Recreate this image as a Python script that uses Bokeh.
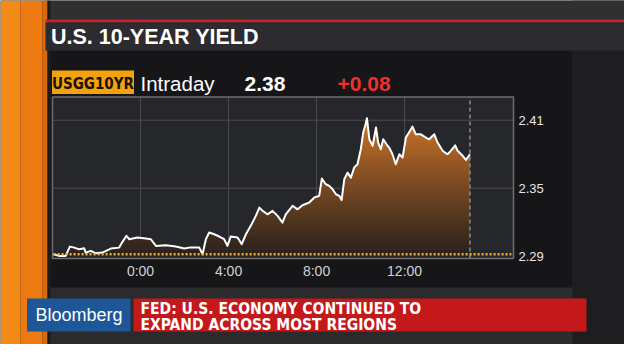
import numpy as np
from bokeh.plotting import figure
from bokeh.models import Range1d
from bokeh.core.properties import value
from bokeh.embed import file_html
from bokeh.resources import INLINE

# ---------------- data ----------------
title_text = "U.S. 10-YEAR YIELD"
ticker = "USGG10YR"
period = "Intraday"
last_value = "2.38"
change = "+0.08"
headline = ["FED: U.S. ECONOMY CONTINUED TO", "EXPAND ACROSS MOST REGIONS"]
brand = "Bloomberg"

hours = [-3.97, -3.70, -3.40, -3.21, -3.01, -2.79, -2.56, -2.49, -2.26, -2.03,
         -1.73, -1.35, -0.97, -0.82, -0.64, -0.51, -0.14, 0.24, 0.47, 0.70,
         1.15, 1.60, 1.99, 2.21, 2.67, 2.82, 2.97, 3.12, 3.35, 3.58,
         3.80, 3.95, 4.10, 4.41, 4.60, 4.79, 5.01, 5.24, 5.40, 5.55,
         5.77, 6.00, 6.23, 6.45, 6.60, 6.91, 7.14, 7.36, 7.67, 7.90,
         8.12, 8.24, 8.42, 8.58, 8.73, 8.88, 9.03, 9.14, 9.26, 9.41,
         9.56, 9.71, 9.86, 10.01, 10.12, 10.21, 10.29, 10.40, 10.55, 10.70,
         10.80, 10.92, 11.03, 11.18, 11.30, 11.45, 11.60, 11.76, 11.91, 12.06,
         12.29, 12.36, 12.51, 12.74, 12.97, 13.12, 13.35, 13.50, 13.73, 13.95,
         14.10, 14.30, 14.41, 14.64, 14.79, 14.97]
yields = [2.2917, 2.2903, 2.2903, 2.2985, 2.2976, 2.2961, 2.2970, 2.2932, 2.2947, 2.2926,
          2.2932, 2.2968, 2.2976, 2.3027, 2.3080, 2.3050, 2.3065, 2.3056, 2.3050, 2.2991,
          2.2997, 2.2985, 2.2968, 2.2976, 2.2976, 2.2917, 2.3050, 2.3109, 2.3094, 2.3074,
          2.3050, 2.2991, 2.3074, 2.3065, 2.3006, 2.3094, 2.3168, 2.3256, 2.3329, 2.3300,
          2.3270, 2.3300, 2.3256, 2.3197, 2.3270, 2.3344, 2.3314, 2.3350, 2.3374, 2.3418,
          2.3433, 2.3585, 2.3535, 2.3520, 2.3491, 2.3447, 2.3433, 2.3397, 2.3579, 2.3638,
          2.3594, 2.3683, 2.3712, 2.3844, 2.3991, 2.4051, 2.4118, 2.3932, 2.3874, 2.4036,
          2.3903, 2.3844, 2.3932, 2.3888, 2.3859, 2.3800, 2.3712, 2.3800, 2.3771, 2.3947,
          2.4021, 2.4044, 2.3976, 2.3976, 2.3947, 2.3932, 2.3976, 2.3903, 2.3830, 2.3800,
          2.3830, 2.3879, 2.3830, 2.3786, 2.3750, 2.3800]

x_ticks = [0, 4, 8, 12]
x_tick_labels = ["0:00", "4:00", "8:00", "12:00"]
y_ticks = [2.41, 2.35, 2.29]
y_tick_labels = ["2.41", "2.35", "2.29"]
prev_close = 2.2918
now_hour = 14.97

# ---------------- layout ----------------
W, H = 624, 344
OFF = 8
PL, PR = 60 - OFF, 521 - OFF
PT, PB = 104.5 - OFF, 266 - OFF
XMIN, XMAX = -4.0, 16.95
YMIN, YMAX = 2.2880, 2.4305
COND = value("DejaVu Sans Condensed")


def ext(v0, v1, p0, p1, c0, c1):
    s = (v1 - v0) / (p1 - p0)
    return v0 + (c0 - p0) * s, v0 + (c1 - p0) * s


p = figure(width=W, height=H, x_range=Range1d(0, W), y_range=Range1d(H, 0),
           x_axis_type=None, y_axis_type=None, output_backend="svg",
           toolbar_location=None, min_border=0)
p.outline_line_color = None
p.grid.visible = False
p.background_fill_color = "#2b2b2d"
p.border_fill_color = "#2b2b2d"

hx0, hx1 = ext(XMIN, XMAX, PL, PR, 0, W)
yv0, yv1 = ext(YMIN, YMAX, PB, PT, H, 0)
p.extra_x_ranges = {"h": Range1d(hx0, hx1)}
p.extra_y_ranges = {"v": Range1d(yv0, yv1)}

# background areas
p.quad(left=572, right=W, top=0, bottom=H, fill_color="#1e1e20", line_color=None)
p.quad(left=45, right=W, top=0, bottom=19, fill_color="#303032", line_color=None)
# orange strip
p.quad(left=0, right=20, top=0, bottom=H, fill_color="#f38a18", line_color=None)
p.quad(left=20, right=42, top=0, bottom=H, fill_color="#ee7a12", line_color=None)
p.quad(left=42, right=47, top=0, bottom=H, fill_color="#d9690d", line_color=None)
p.quad(left=47, right=50, top=0, bottom=H, fill_color="#1c1c1e", line_color=None)
# title bar
p.quad(left=45, right=W, top=19, bottom=22, fill_color="#c8232a", line_color=None)
p.quad(left=45, right=W, top=22, bottom=50, fill_color="#2c2c30", line_color=None)
# chart panel
p.quad(left=50, right=572, top=50, bottom=287, fill_color="#161618", line_color=None)

# title and header
p.text(x=[50.5], y=[36], text=[title_text], text_color="white",
       text_font=value("Liberation Sans"), text_font_style="bold",
       text_font_size="21.5px", text_baseline="middle")
p.quad(left=51.5, right=133.5, top=70, bottom=93.5, fill_color="#f2a30c", line_color=None)
p.text(x=[92.5], y=[83], text=[ticker], text_color="#1a1209",
       text_font=COND, text_font_style="bold",
       text_font_size="15px", text_align="center", text_baseline="middle")
p.text(x=[140], y=[82.5], text=[period], text_color="white",
       text_font=value("Liberation Sans"), text_font_size="20.5px",
       text_baseline="middle")
p.text(x=[244], y=[83], text=[last_value], text_color="white",
       text_font=value("Liberation Sans"), text_font_style="bold",
       text_font_size="21px", text_baseline="middle")
p.text(x=[337], y=[83], text=[change], text_color="#ee3030",
       text_font=value("Liberation Sans"), text_font_style="bold",
       text_font_size="21px", text_baseline="middle")

# plot area
R = dict(x_range_name="h", y_range_name="v")
p.quad(left=XMIN, right=XMAX, bottom=YMIN, top=YMAX, fill_color="#26272b",
       line_color=None, **R)
p.segment(x0=x_ticks, y0=YMIN, x1=x_ticks, y1=YMAX, line_color="#4b4c50",
          line_width=1, **R)
p.segment(x0=XMIN, y0=y_ticks[:2], x1=XMAX, y1=y_ticks[:2], line_color="#4b4c50",
          line_width=1, **R)

hx = np.array(hours)
yy = np.array(yields)
levels = np.linspace(YMIN, 2.416, 36)
c_lo = np.array([40, 33, 28])
c_hi = np.array([212, 120, 42])
for k in range(len(levels) - 1, 0, -1):
    t = (k - 0.5) / (len(levels) - 1)
    c = (c_lo + (c_hi - c_lo) * t ** 1.1).astype(int)
    col = "#%02x%02x%02x" % tuple(c)
    p.varea(x=hx, y1=YMIN, y2=np.clip(yy, YMIN, levels[k]), fill_color=col, **R)

p.line(x=[now_hour, now_hour], y=[YMIN, YMAX], line_color="#8c8c8e",
       line_width=1.5, line_dash="4 3", **R)
p.line(x=hx, y=yy, line_color="white", line_width=2, line_join="round", **R)
p.line(x=[XMIN + 0.05, XMAX - 0.1], y=[prev_close, prev_close], line_color="#f2b232",
       line_width=2.5, line_dash="2 2", **R)
p.quad(left=XMIN, right=XMAX, bottom=YMIN, top=YMAX, fill_color=None,
       line_color="#6e6e70", line_width=1.5, **R)

p.text(x=x_ticks, y=[270] * 4, text=x_tick_labels, text_color="#d2d2d2",
       text_font=value("Liberation Sans"), text_font_size="14px",
       text_align="center", text_baseline="middle", x_range_name="h")
p.text(x=[518] * 3, y=y_ticks, text=y_tick_labels, text_color="#e6e6e6",
       text_font=value("Liberation Sans"), text_font_size="13px",
       text_baseline="middle", y_range_name="v")

# lower third
p.quad(left=26.5, right=130, top=298, bottom=331, fill_color="#1d5797", line_color=None)
p.quad(left=133, right=586, top=298, bottom=331, fill_color="#c4191b", line_color=None)
p.text(x=[78.5], y=[314.5], text=[brand], text_color="white",
       text_font=value("Liberation Sans"), text_font_size="18px",
       text_align="center", text_baseline="middle")
p.text(x=[140, 140], y=[308.5, 324], text=headline, text_color="white",
       text_font=COND, text_font_style="bold",
       text_font_size="15.5px", text_baseline="middle")

open("out.html", "w").write(file_html(p, INLINE))
